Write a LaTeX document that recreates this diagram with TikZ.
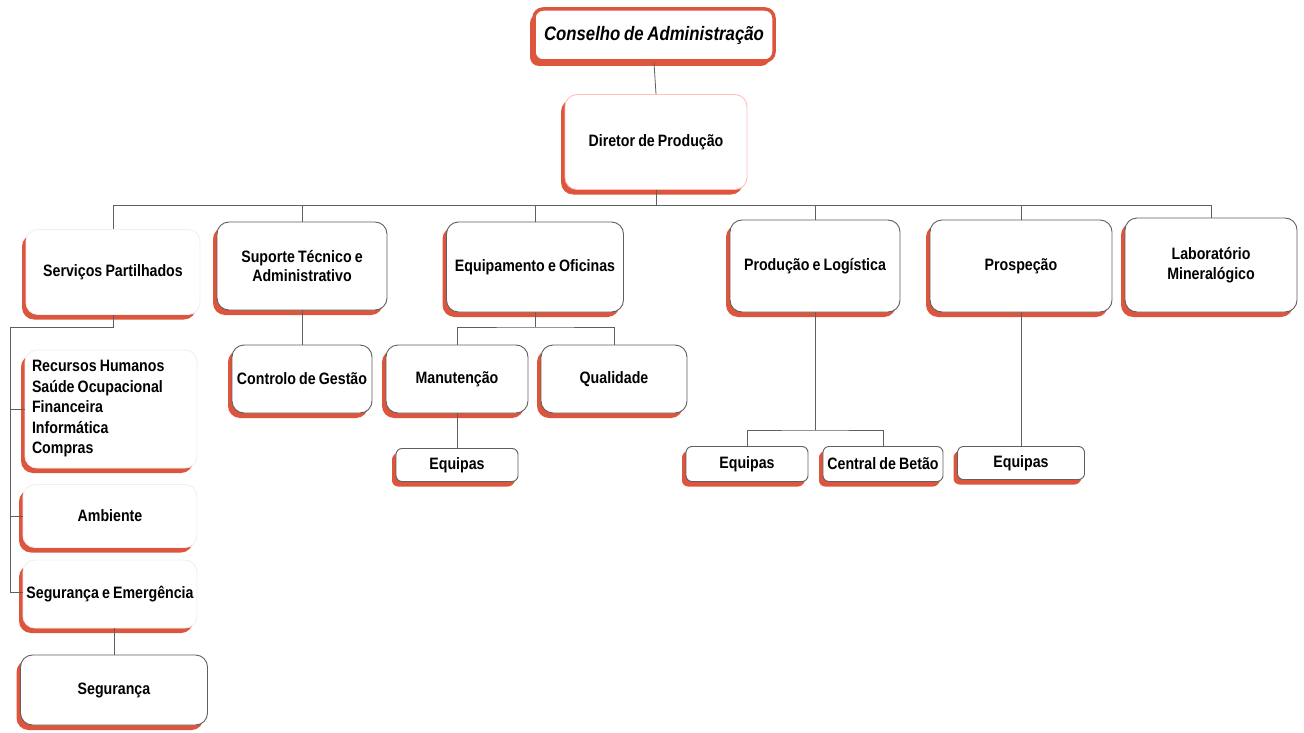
\documentclass[tikz,border=0pt]{standalone}
\usepackage{fontspec}
\setmainfont{Liberation Sans}[FakeStretch=0.86,WordSpace=0.8]
\usetikzlibrary{shadows}
\definecolor{shred}{RGB}{222,85,62}
\definecolor{bdr}{RGB}{95,95,95}
\tikzset{
  box/.style={rectangle, rounded corners=12pt, draw=bdr, line width=0.9pt, fill=white,
    drop shadow={shadow xshift=-4pt, shadow yshift=-5pt, fill=shred, opacity=1},
    align=center, font=\fontsize{16.5}{19.5}\selectfont\bfseries, inner sep=2pt},
  smallbox/.style={box, rounded corners=6pt, drop shadow={shadow xshift=-3pt, shadow yshift=-4pt, fill=shred, opacity=1}},
  fadebox/.style={box, draw=gray!12},
  conn/.style={draw=bdr, line width=0.8pt},
}
\begin{document}
\begin{tikzpicture}[x=1pt,y=-1pt]
\useasboundingbox[fill=white] (0,0) rectangle (1304,733);
% top
\node[box, draw=shred, line width=3.5pt, rounded corners=9pt, minimum width=240pt, minimum height=52pt,
  font=\fontsize{19.5}{22}\selectfont\bfseries\itshape] (cons) at (654,35) {Conselho de Administração};
\node[box, draw=red!25, minimum width=182pt, minimum height=95pt] (dir) at (656,142) {Diretor de Produção};
% level 2
\node[fadebox, minimum width=174pt, minimum height=85pt] (serv) at (113,272) {Serviços Partilhados};
\node[box, minimum width=170pt, minimum height=88pt] (sup) at (302,266) {Suporte Técnico e\\Administrativo};
\node[box, minimum width=177pt, minimum height=90pt] (equip) at (535,267) {Equipamento e Oficinas};
\node[box, minimum width=170pt, minimum height=92pt] (prod) at (815,266) {Produção e Logística};
\node[box, minimum width=182pt, minimum height=92pt] (prosp) at (1021,266) {Prospeção};
\node[box, minimum width=172pt, minimum height=94pt] (lab) at (1211,265) {Laboratório\\Mineralógico};
% services column
\node[fadebox, minimum width=172pt, minimum height=118pt, align=flush left,
  font=\fontsize{16.5}{20.5}\selectfont\bfseries, text width=158pt] (rec) at (111,409)
  {\vspace{0pt}Recursos Humanos\\Saúde Ocupacional\\Financeira\\Informática\\Compras};
\node[fadebox, minimum width=174pt, minimum height=63pt] (amb) at (110,516) {Ambiente};
\node[fadebox, minimum width=174pt, minimum height=68pt] (sege) at (110,594) {Segurança e Emergência};
\node[box, minimum width=187pt, minimum height=70pt] (seg) at (114,690) {Segurança};
% level 3
\node[box, minimum width=140pt, minimum height=68pt] (ctrl) at (302,379) {Controlo de Gestão};
\node[box, minimum width=142pt, minimum height=68pt] (man) at (457,379) {Manutenção};
\node[box, minimum width=146pt, minimum height=68pt] (qual) at (614,379) {Qualidade};
\node[smallbox, minimum width=122pt, minimum height=33pt] (eq1) at (457,465) {Equipas};
\node[smallbox, minimum width=122pt, minimum height=35pt] (eq2) at (747,464) {Equipas};
\node[smallbox, minimum width=120pt, minimum height=35pt] (cb) at (883,464) {Central de Betão};
\node[smallbox, minimum width=127pt, minimum height=33pt] (eq3) at (1021,463) {Equipas};
% coordinates
\coordinate (busL) at (113,205);
\coordinate (busR) at (1211,205);
\coordinate (railT) at (10,327);
\coordinate (railB) at (10,592);
\coordinate (eqbar) at (535,327);
\coordinate (prodbar) at (815,430);
% connectors
\draw[conn] (cons.south) -- (dir.north);
\draw[conn] (dir.south) -- (dir.south |- busL);
\draw[conn] (busL) -- (busR);
\foreach \n in {serv,sup,equip,prod,prosp,lab} \draw[conn] (\n.north) -- (\n.north |- busL);
\draw[conn] (serv.south) |- (railT) -- (railB);
\draw[conn] (railT |- rec.west) -- (rec.west);
\draw[conn] (railT |- amb.west) -- (amb.west);
\draw[conn] (railB) -- (railB -| sege.west);
\draw[conn] (sege.south -| seg.north) -- (seg.north);
\draw[conn] (sup.south) -- (ctrl.north);
\draw[conn] (equip.south) -- (eqbar);
\draw[conn] (man.north) |- (eqbar) -| (qual.north);
\draw[conn] (man.south) -- (eq1.north);
\draw[conn] (prod.south) -- (prodbar);
\draw[conn] (eq2.north) |- (prodbar) -| (cb.north);
\draw[conn] (prosp.south) -- (eq3.north);
\end{tikzpicture}
\end{document}
